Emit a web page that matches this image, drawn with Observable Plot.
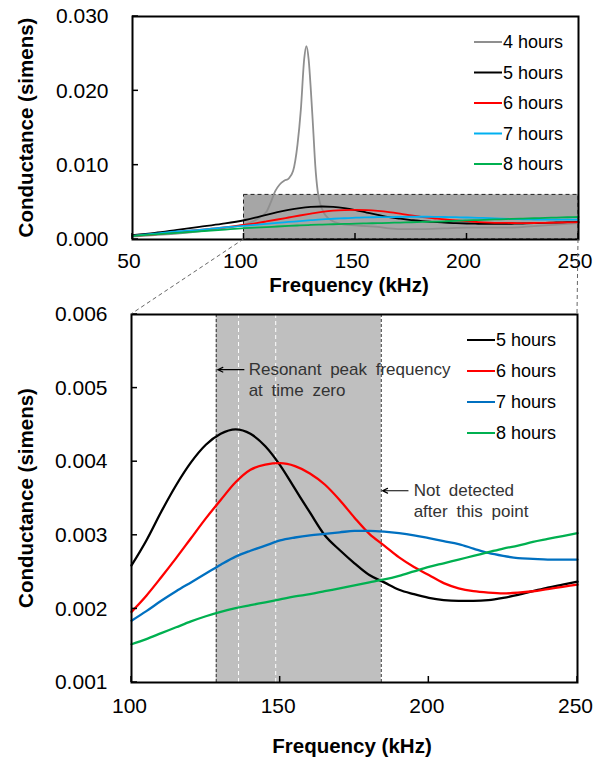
<!DOCTYPE html>
<html><head><meta charset="utf-8">
<script src="https://cdn.jsdelivr.net/npm/d3@7"></script>
<script src="https://cdn.jsdelivr.net/npm/@observablehq/plot@0.6"></script>
<style>
html,body{margin:0;padding:0;background:#fff;}
#wrap{position:relative;width:599px;height:762px;background:#fff;font-family:"Liberation Sans",Arial,sans-serif;}
#wrap > svg{position:absolute;left:0;overflow:visible;}
</style></head><body><div id="wrap"></div>
<script>
// ---- data (frequency in kHz, conductance in siemens) ----
const freq = [50,60,70,80,90,100,105,110,115,120,125,130,135,140,145,150,155,160,165,170,175,180,185,190,195,200,205,210,215,220,225,230,235,240,245,250];
const g5h = [0.0006,0.0009,0.0013,0.0017,0.0021,0.00259,0.00293,0.00332,0.00368,0.00399,0.00423,0.00438,0.00444,0.00438,0.00421,0.00395,0.00363,0.00331,0.00300,0.00280,0.00262,0.00246,0.00236,0.00226,0.00220,0.00215,0.00212,0.00211,0.00211,0.00212,0.00215,0.00219,0.00224,0.00229,0.00233,0.00237];
const g6h = [0.0005,0.0007,0.0010,0.0013,0.0016,0.00196,0.00218,0.00243,0.00269,0.00296,0.00323,0.00348,0.00372,0.00389,0.00396,0.00398,0.00394,0.00384,0.00369,0.00348,0.00324,0.00302,0.00286,0.00270,0.00257,0.00246,0.00235,0.00228,0.00224,0.00222,0.00221,0.00222,0.00224,0.00227,0.00230,0.00233];
const g7h = [0.0005,0.0008,0.0011,0.0013,0.0016,0.00184,0.00197,0.00211,0.00224,0.00236,0.00248,0.00260,0.00271,0.00279,0.00286,0.00293,0.00297,0.00300,0.00302,0.00304,0.00306,0.00306,0.00305,0.00303,0.00300,0.00296,0.00292,0.00288,0.00282,0.00276,0.00272,0.00269,0.00268,0.00267,0.00267,0.00267];
const g8h = [0.0005,0.0007,0.0009,0.0011,0.0013,0.00152,0.00159,0.00167,0.00175,0.00183,0.00190,0.00196,0.00201,0.00205,0.00209,0.00213,0.00217,0.00220,0.00224,0.00228,0.00232,0.00236,0.00240,0.00245,0.00251,0.00257,0.00262,0.00267,0.00272,0.00277,0.00282,0.00286,0.00291,0.00295,0.00299,0.00303];
const freq4 = [50,60,70,80,90,100,105,110,112,114,116,118,120,122,124,125.5,127,128,129,130,131,132,133,134,136,138,141,145,150,155,160,165,170,180,190,200,210,220,230,240,250];
const g4h = [0.0004,0.0006,0.0008,0.0011,0.0015,0.0020,0.0026,0.0037,0.0050,0.0065,0.0074,0.0079,0.0082,0.0092,0.0128,0.0175,0.0243,0.0260,0.0242,0.0200,0.0150,0.0098,0.0066,0.0050,0.0035,0.0028,0.0023,0.0020,0.0019,0.0018,0.0017,0.0015,0.0014,0.0014,0.0015,0.0016,0.0016,0.0016,0.0018,0.0020,0.0022];

const seriesTop = ["4 hours","5 hours","6 hours","7 hours","8 hours"];
const colorsTop = ["#8f8f8f","#000000","#ff0000","#00b0f0","#00b050"];
const seriesBottom = ["5 hours","6 hours","7 hours","8 hours"];
const colorsBottom = ["#000000","#ff0000","#0070c0","#00b050"];

const xDomainTop = [50,250], yDomainTop = [0,0.03];
const xTicksTop = [50,100,150,200,250], yTicksTop = [0,0.01,0.02,0.03];
const xDomainBottom = [100,250], yDomainBottom = [0.001,0.006];
const xTicksBottom = [100,150,200,250], yTicksBottom = [0.001,0.002,0.003,0.004,0.005,0.006];

const band = [{a:128.5, b:184}];          // grey region: resonant peak at time zero .. not detected
const bandEdges = [128.5, 184];
const peakMarks = [136, 148.5];           // white dashed lines
const notes = [
  {x:139.4, y:0.00525, t:"Resonant peak frequency"},
  {x:139.4, y:0.00497, t:"at time zero"},
  {x:194.9, y:0.003605, t:"Not detected"},
  {x:194.9, y:0.00332, t:"after this point"}
];
const arrows = [
  {x1:137.8, x2:129.0, y:0.00525},
  {x1:193.0, x2:184.4, y:0.003605}
];
const xTitle = "Frequency (kHz)", yTitle = "Conductance (simens)";

// ---- tables ----
const lists = {"5 hours":g5h,"6 hours":g6h,"7 hours":g7h,"8 hours":g8h};
const rowsTop = [
  ...freq4.map((f,i)=>({f, v:g4h[i], s:"4 hours"})),
  ...seriesBottom.flatMap(s => freq.map((f,i)=>({f, v:lists[s][i], s})))
];
const rowsBottom = seriesBottom.flatMap(s => freq.map((f,i)=>({f, v:lists[s][i], s}))).filter(d => d.f >= xDomainBottom[0]);

const FONT = "Liberation Sans, Arial, sans-serif";
const TICKFS = 21, TITLEFS = 20.5, LEGFS = 18;
const W = 599;
const mTop = {left:132, right:21, top:16, bottom:57}, Htop = 296;
const mBot = {left:131, right:22, top:24, bottom:80}, Hbot = 472, offBot = 290;

const topPlot = Plot.plot({
  width: W, height: Htop,
  marginLeft: mTop.left, marginRight: mTop.right, marginTop: mTop.top, marginBottom: mTop.bottom,
  style: {background:"transparent", fontFamily: FONT, color:"#000", overflow:"visible"},
  x: {domain: xDomainTop},
  y: {domain: yDomainTop},
  color: {domain: seriesTop, range: colorsTop},
  marks: [
    Plot.rect([{x1:xDomainBottom[0], x2:xDomainBottom[1], y1:0, y2:yDomainBottom[1]}], {x1:"x1", x2:"x2", y1:"y1", y2:"y2", fill:"#a6a6a6", stroke:"#222", strokeWidth:1, strokeDasharray:"4,3"}),
    Plot.line(rowsTop, {x:"f", y:"v", z:"s", stroke:"s", strokeWidth:1.8, curve:"monotone-x"}),
    Plot.axisX({ticks: xTicksTop, tickFormat: d => String(d), tickSize: 0, tickPadding: 13.5, dx: -3.5, fontSize: TICKFS, label: null}),
    Plot.axisY({ticks: yTicksTop, tickFormat: d3.format(".3f"), tickSize: 0, tickPadding: 24, fontSize: TICKFS, label: null}),
    Plot.frame({stroke:"#000", strokeWidth:2})
  ]
});
topPlot.style.top = "0px";

const botPlot = Plot.plot({
  width: W, height: Hbot,
  marginLeft: mBot.left, marginRight: mBot.right, marginTop: mBot.top, marginBottom: mBot.bottom,
  style: {background:"transparent", fontFamily: FONT, color:"#000", overflow:"visible"},
  x: {domain: xDomainBottom},
  y: {domain: yDomainBottom},
  color: {domain: seriesBottom, range: colorsBottom},
  marks: [
    Plot.rect(band, {x1:"a", x2:"b", fill:"#bfbfbf"}),
    Plot.ruleX(bandEdges, {stroke:"#333", strokeWidth:1, strokeDasharray:"3,2"}),
    Plot.ruleX(peakMarks, {stroke:"#fff", strokeWidth:1, strokeDasharray:"4,3"}),
    Plot.line(rowsBottom, {x:"f", y:"v", z:"s", stroke:"s", strokeWidth:2.3, curve:"monotone-x"}),
    Plot.arrow(arrows, {x1:"x1", x2:"x2", y1:"y", y2:"y", stroke:"#000", strokeWidth:1.2, headLength:7, headAngle:50}),
    Plot.text(notes, {x:"x", y:"y", text:"t", textAnchor:"start", fill:"#333", fontSize:17}),
    Plot.axisX({ticks: xTicksBottom, tickFormat: d => String(d), tickSize: 0, tickPadding: 16, dx: -2, fontSize: TICKFS, label: null}),
    Plot.axisY({ticks: yTicksBottom, tickFormat: d3.format(".3f"), tickSize: 0, tickPadding: 24, fontSize: TICKFS, label: null}),
    Plot.frame({stroke:"#000", strokeWidth:2})
  ]
});
botPlot.style.top = offBot + "px";

const wrap = document.getElementById("wrap");
wrap.appendChild(topPlot);
wrap.appendChild(botPlot);

// word spacing for annotation text
d3.select(botPlot).selectAll("text").filter(function(){ return notes.some(n => n.t === this.textContent); }).style("word-spacing","4px");

function decorate(svg, m, H, xt, yt, series, colors, opts) {
  const sx = svg.scale("x"), sy = svg.scale("y");
  const s = d3.select(svg);
  const yb = H - m.bottom, xl = m.left, xr = W - m.right;
  const g = s.append("g").attr("stroke","#000").attr("stroke-width",1.5);
  xt.forEach(t => { const x = sx.apply(t); g.append("line").attr("x1",x).attr("x2",x).attr("y1",yb).attr("y2",yb-6); });
  yt.forEach(t => { const y = sy.apply(t); g.append("line").attr("x1",xl).attr("x2",xl+6).attr("y1",y).attr("y2",y); });
  s.append("text").attr("x",(xl+xr)/2 + opts.titleDx).attr("y", yb + opts.titleDy).attr("text-anchor","middle")
    .attr("font-family",FONT).attr("font-weight","bold").attr("font-size",TITLEFS).attr("fill","#000").text(xTitle);
  s.append("text").attr("transform",`translate(33,${(m.top+yb)/2}) rotate(-90)`).attr("text-anchor","middle")
    .attr("font-family",FONT).attr("font-weight","bold").attr("font-size",TITLEFS).attr("fill","#000").text(yTitle);
  const lg = s.append("g");
  series.forEach((name,i) => {
    const y = m.top + opts.y0 + i*opts.step;
    const x1 = xr - opts.fromRight;
    lg.append("line").attr("x1",x1).attr("x2",x1+28).attr("y1",y).attr("y2",y).attr("stroke",colors[i]).attr("stroke-width",2);
    lg.append("text").attr("x",x1+29).attr("y",y).attr("dy","0.36em").attr("text-anchor","start")
      .attr("font-family",FONT).attr("font-size",LEGFS).attr("fill","#000").text(name);
  });
}
decorate(topPlot, mTop, Htop, xTicksTop, yTicksTop, seriesTop, colorsTop, {y0:26, step:30.5, fromRight:104, titleDy:52.5, titleDx:-6});
decorate(botPlot, mBot, Hbot, xTicksBottom, yTicksBottom, seriesBottom, colorsBottom, {y0:26, step:31, fromRight:110, titleDy:71, titleDx:-2});

// connector lines from the zoom box to the lower panel
const tx = topPlot.scale("x"), ty = topPlot.scale("y"), bx = botPlot.scale("x"), by = botPlot.scale("y");
const ov = d3.select(wrap).append("svg").attr("width",W).attr("height",762).style("top","0px").style("pointer-events","none");
[xDomainBottom[0], xDomainBottom[1]].forEach(f => {
  ov.append("line")
    .attr("x1", tx.apply(f)).attr("y1", ty.apply(0))
    .attr("x2", bx.apply(f)).attr("y2", offBot + by.apply(yDomainBottom[1]))
    .attr("stroke","#666").attr("stroke-width",1).attr("stroke-dasharray","4,3");
});
</script>
</body></html>
